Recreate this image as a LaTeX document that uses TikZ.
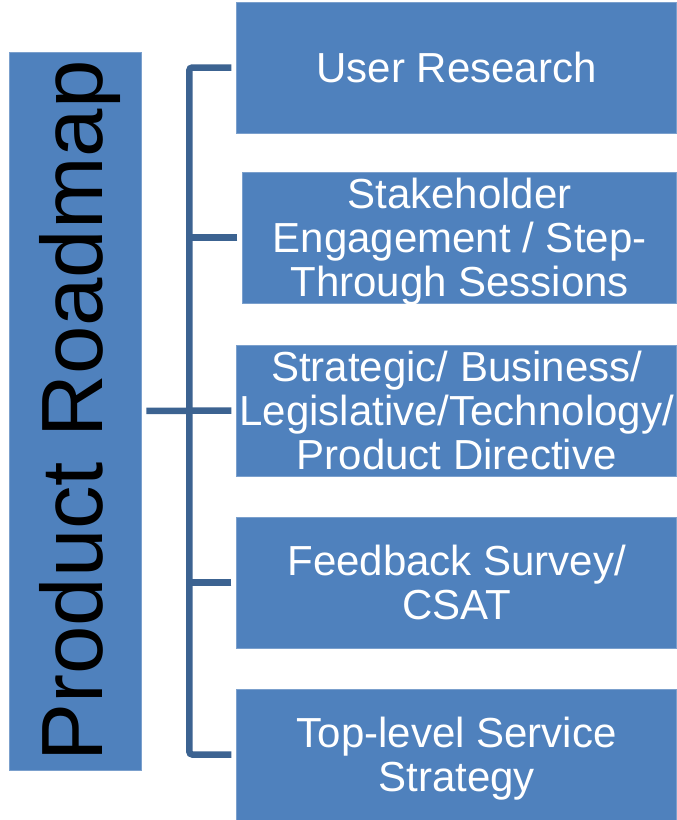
\documentclass[tikz,border=0pt]{standalone}
\usepackage{fontspec}
\setmainfont{Liberation Sans}
\usetikzlibrary{positioning}
\usetikzlibrary{calc}
\definecolor{boxblue}{HTML}{4F81BD}
\definecolor{linkblue}{HTML}{3C6391}
\tikzstyle{roadbox}=[rectangle,fill=boxblue,draw=boxblue!75!white,line width=0.7pt,inner sep=0pt,minimum height=131pt]
\tikzstyle{itembox}=[roadbox,text=white,align=center,font=\fontsize{42}{44}\selectfont,execute at begin node=\vphantom{Ag},execute at end node=\vphantom{g}]
\tikzstyle{link}=[draw=linkblue,line width=6.5pt,shorten <=5pt,shorten >=5pt]

\begin{document}
\begin{tikzpicture}[x=1pt,y=-1pt]
\useasboundingbox (0,0) rectangle (677,820);

%roadmap 
    \node[roadbox,rotate=90,minimum width=718pt,minimum height=132pt,text height=80pt,text depth=26pt,font=\fontsize{87}{90}\selectfont] (roadmap) at (75,411) {Product Roadmap};

    \foreach \ypos/\width/\name/\label in {67.5/440/user/{User Research}, 237.5/434/stakeholder/{Stakeholder\\Engagement / Step-\\Through Sessions}, 410.5/440/strategic/{Strategic/ Business/\\Legislative/Technology/\\Product Directive}, 582.5/440/feedback/{Feedback Survey/\\CSAT}, 754.5/440/service/{Top-level Service\\Strategy}}
        \node[itembox,minimum width=\width pt,anchor=east,text depth=0pt] (\name) at (677,\ypos) {\label};

%links 
    \draw[link,rounded corners=3pt] (user.west) -- ++(-47,0) coordinate (spine) |- (service.west);
    \draw[link] (roadmap.south) -- (strategic.west);
    \foreach \name in {stakeholder, feedback}
        \draw[link,shorten >=0pt] (\name.west) -- (\name.west -| spine);

\end{tikzpicture}
\end{document}
